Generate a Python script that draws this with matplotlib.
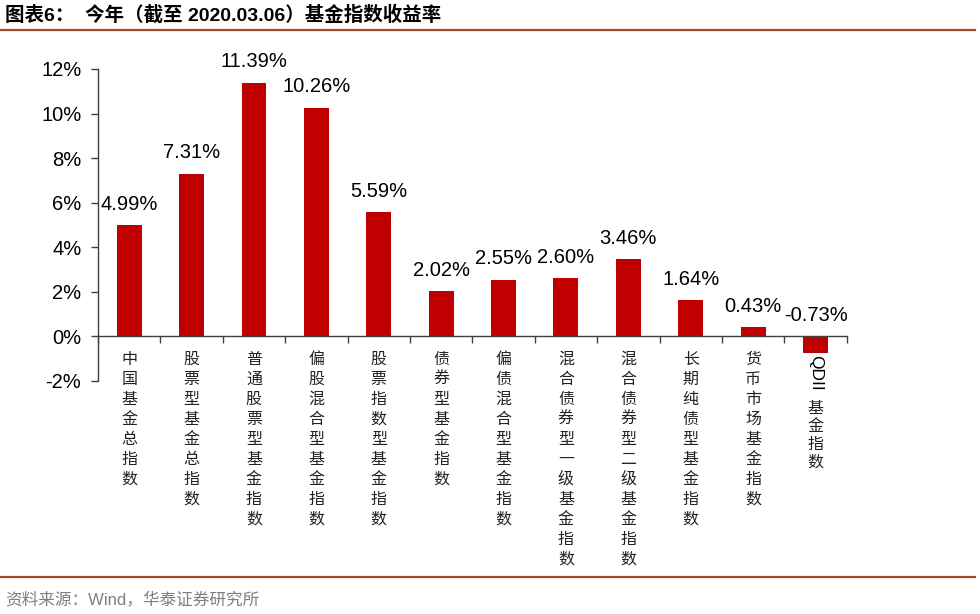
import matplotlib
matplotlib.use('Agg')
import matplotlib.pyplot as plt
from matplotlib.lines import Line2D
from matplotlib.ticker import FuncFormatter, FixedLocator

plt.rcParams['font.family'] = ['Liberation Sans', 'Noto Sans CJK SC', 'DejaVu Sans']

categories = ['中国基金总指数', '股票型基金总指数', '普通股票型基金指数', '偏股混合型基金指数',
              '股票指数型基金指数', '债券型基金指数', '偏债混合型基金指数', '混合债券型一级基金指数',
              '混合债券型二级基金指数', '长期纯债型基金指数', '货币市场基金指数', 'QDII基金指数']
returns = [4.99, 7.31, 11.39, 10.26, 5.59, 2.02, 2.55, 2.60, 3.46, 1.64, 0.43, -0.73]
yticks = [-2, 0, 2, 4, 6, 8, 10, 12]

title = '图表6：  今年（截至 2020.03.06）基金指数收益率'
source = '资料来源：Wind，华泰证券研究所'

BAR = '#C00000'
RULE = '#A8432C'
AXIS = '#404040'

fig = plt.figure(figsize=(9.8, 6.14), dpi=100)
ax = fig.add_axes([0.1, 1 - 381 / 614, 0.764, (381 - 69) / 614])

x = list(range(len(categories)))
ax.bar(x, returns, width=0.4, color=BAR)
ax.set_xlim(-0.5, len(categories) - 0.5)
ax.set_ylim(-2, 12)

ax.yaxis.set_major_locator(FixedLocator(yticks))
ax.yaxis.set_major_formatter(FuncFormatter(lambda v, p: f'{v:.0f}%'))
ax.tick_params(axis='y', direction='out', length=5, width=1, color=AXIS,
               labelsize=14.5, pad=7)

# x axis sits on zero, ticks at category boundaries
ax.spines['bottom'].set_position(('data', 0))
ax.set_xticks([i - 0.5 for i in range(len(categories) + 1)])
ax.set_xticklabels([])
ax.tick_params(axis='x', direction='out', length=5, width=1, color=AXIS)
for s in ['top', 'right']:
    ax.spines[s].set_visible(False)
for s in ['left', 'bottom']:
    ax.spines[s].set_color(AXIS)
    ax.spines[s].set_linewidth(1)

# value labels
for xi, v in zip(x, returns):
    ax.annotate(f'{v:.2f}%', xy=(xi, max(v, 0)), xytext=(0, 15), textcoords='offset points',
                ha='center', va='center', fontsize=14.5)

# vertical category labels, one character per line
cjk = ['Noto Sans CJK SC']
for xi, name in zip(x, categories):
    start = 16.5
    chars = list(name)
    if name.startswith('QDII'):
        ax.annotate('QDII', xy=(xi, 0), xytext=(0, -26), textcoords='offset points',
                    ha='center', va='center', rotation=-90, fontsize=12.5,
                    family=['Liberation Sans'])
        chars = chars[4:]
        start = 52
        step = 12.8
    else:
        step = 14.4
    for k, ch in enumerate(chars):
        ax.annotate(ch, xy=(xi, 0), xytext=(0, -start - k * step), textcoords='offset points',
                    ha='center', va='center', fontsize=11.5, family=cjk, color='#222222')

# header and footer
fig.text(5 / 980, 1 - 15 / 614, title, ha='left', va='center', fontsize=14,
         fontweight='heavy', family=['Liberation Sans', 'Noto Sans CJK SC'])
fig.add_artist(Line2D([0, 975 / 980], [1 - 30 / 614] * 2, transform=fig.transFigure,
                      color=RULE, lw=1.6))
fig.add_artist(Line2D([0, 975 / 980], [1 - 577 / 614] * 2, transform=fig.transFigure,
                      color=RULE, lw=1.6))
fig.text(5 / 980, 1 - 599 / 614, source, ha='left', va='center', fontsize=12,
         color='#7F7F7F', family=['Liberation Sans', 'Noto Sans CJK SC'])

fig.savefig('out.png', dpi=100)
